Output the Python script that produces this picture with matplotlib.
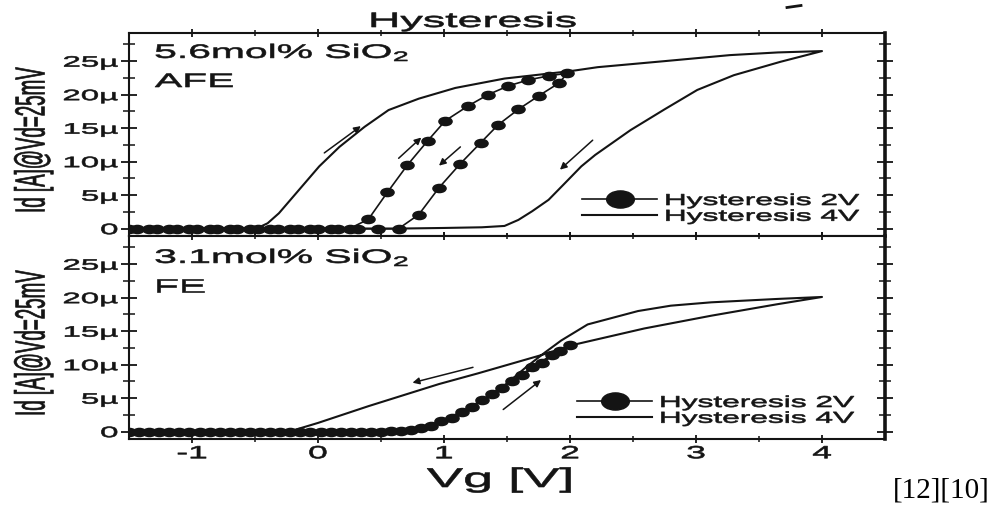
import numpy as np
import matplotlib
matplotlib.use("Agg")
import matplotlib.pyplot as plt
from matplotlib import patheffects
from matplotlib.path import Path
from matplotlib.markers import MarkerStyle
from matplotlib.transforms import Affine2D
from matplotlib.lines import Line2D

plt.rcParams["font.family"] = ["Liberation Sans", "DejaVu Sans"]
plt.rcParams["mathtext.fontset"] = "custom"
plt.rcParams["mathtext.rm"] = "Liberation Sans"
plt.rcParams["mathtext.it"] = "Liberation Sans:italic"
plt.rcParams["axes.unicode_minus"] = False

# ---- values (Vg in V, Id in uA) ----
# 5.6 mol% SiO2 (AFE)
afe_2v_up_vg = [-1.50, -1.34, -1.18, -1.02, -0.86, -0.70, -0.54, -0.38, -0.22, -0.06, 0.10, 0.25,
                0.40, 0.55, 0.71, 0.87, 1.01, 1.19, 1.35, 1.51, 1.67, 1.83, 1.98]
afe_2v_up_id = [0, 0, 0, 0, 0, 0, 0, 0, 0, 0, 0, 0,
                1.4, 5.4, 9.5, 13.1, 16.1, 18.3, 20.0, 21.3, 22.2, 22.8, 23.2]
afe_2v_down_vg = [1.91, 1.75, 1.59, 1.43, 1.29, 1.13, 0.96, 0.80, 0.64, 0.48, 0.32, 0.16,
                  0.00, -0.16, -0.32, -0.48, -0.64, -0.80, -0.96, -1.12, -1.28, -1.44]
afe_2v_down_id = [21.7, 19.8, 17.8, 15.5, 12.8, 9.7, 6.1, 2.1, 0, 0, 0, 0,
                  0, 0, 0, 0, 0, 0, 0, 0, 0, 0]
afe_4v_up_vg = [-1.50, -0.49, -0.40, -0.31, -0.15, 0.01, 0.17, 0.37, 0.56, 0.80, 1.09, 1.48,
                2.00, 2.22, 2.75, 3.27, 3.65, 4.00]
afe_4v_up_id = [0, 0, 0.8, 2.3, 5.8, 9.3, 12.2, 15.2, 17.7, 19.4, 21.0, 22.4,
                23.5, 24.1, 25.0, 25.9, 26.3, 26.5]
afe_4v_down_vg = [4.00, 3.67, 3.30, 3.01, 2.75, 2.48, 2.20, 2.09, 1.95, 1.83, 1.70, 1.59,
                  1.48, 1.30, 1.00, 0.60, -1.50]
afe_4v_down_id = [26.5, 24.9, 22.9, 20.7, 17.8, 14.7, 11.0, 9.3, 6.6, 4.3, 2.6, 1.3,
                  0.4, 0.2, 0.1, 0, 0]

# 3.1 mol% SiO2 (FE)
fe_2v_up_vg = [-1.50, -1.34, -1.18, -1.02, -0.86, -0.70, -0.54, -0.38, -0.22, -0.06, 0.10, 0.26,
               0.42, 0.58, 0.74, 0.90, 1.06, 1.22, 1.38, 1.54, 1.70, 1.86, 2.00]
fe_2v_up_id = [0, 0, 0, 0, 0, 0, 0, 0, 0, 0, 0, 0,
               0, 0.05, 0.3, 0.9, 2.1, 3.7, 5.6, 7.6, 9.6, 11.5, 13.0]
fe_2v_down_vg = [1.92, 1.78, 1.62, 1.46, 1.30, 1.14, 0.98, 0.82, 0.66, 0.50, 0.34, 0.18,
                 0.02, -0.14, -0.30, -0.46, -0.62, -0.78, -0.94, -1.10, -1.26, -1.42]
fe_2v_down_id = [12.0, 10.3, 8.4, 6.5, 4.7, 3.0, 1.6, 0.6, 0.15, 0, 0, 0,
                 0, 0, 0, 0, 0, 0, 0, 0, 0, 0]
fe_4v_up_vg = [-1.50, 0.50, 0.70, 0.90, 1.10, 1.30, 1.50, 1.65, 1.80, 1.93, 2.14, 2.54,
               2.80, 3.12, 3.64, 4.00]
fe_4v_up_id = [0, 0, 0.2, 0.8, 2.2, 4.6, 7.2, 9.6, 11.8, 13.6, 16.0, 18.0,
               18.8, 19.3, 19.8, 20.1]
fe_4v_down_vg = [4.00, 3.64, 3.12, 2.59, 2.06, 1.75, 1.27, 0.96, 0.40, 0.00, -0.23, -1.50]
fe_4v_down_id = [20.1, 19.0, 17.3, 15.4, 13.1, 11.3, 8.7, 7.1, 3.8, 1.3, 0, 0]

# sweep direction arrows (tail Vg, tail Id, head Vg, head Id)
afe_arrows = [(0.05, 11.3, 0.34, 15.3), (0.64, 10.5, 0.82, 13.6),
              (1.13, 12.2, 0.96, 9.4), (2.18, 13.2, 1.92, 8.8)]
fe_arrows = [(1.23, 9.6, 0.75, 7.3), (1.47, 3.3, 1.77, 7.7)]

xtick_vals = [-1, 0, 1, 2, 3, 4]
xtick_labels = ["-1", "0", "1", "2", "3", "4"]
ytick_vals = [0, 5, 10, 15, 20, 25]
ytick_labels = ["0", "5µ", "10µ", "15µ", "20µ", "25µ"]
legend_labels = ["Hysteresis 2V", "Hysteresis 4V"]

W, H = 1001, 512
ink = "#141414"


class HStretch(patheffects.AbstractPathEffect):
    # the source picture was squeezed into a wide box, so every glyph is ~2x wide
    def __init__(self, sx=2.1, anchor="left", lw=0.45):
        super().__init__()
        self.sx = sx
        self.anchor = anchor
        self.lw = lw

    def draw_path(self, renderer, gc, tpath, affine, rgbFace=None):
        ext = tpath.get_extents(affine)
        if self.anchor == "left":
            cx = ext.x0
        elif self.anchor == "right":
            cx = ext.x1
        else:
            cx = 0.5 * (ext.x0 + ext.x1)
        aff = affine + Affine2D().translate(-cx, 0).scale(self.sx, 1).translate(cx, 0)
        gc0 = renderer.new_gc()
        gc0.copy_properties(gc)
        gc0.set_linewidth(self.lw)
        gc0.set_foreground(rgbFace)
        renderer.draw_path(gc0, tpath, aff, rgbFace)
        gc0.restore()


def fx(px):
    return px / W


def fy(py):
    return 1 - py / H


def ftext(x, y, s, size, sx=2.1, anchor="left", **kw):
    t = fig.text(fx(x), fy(y), s, fontsize=size, color=ink, **kw)
    t.set_path_effects([HStretch(sx, anchor)])
    return t


circ = Path.unit_circle()
dot = MarkerStyle(Path(circ.vertices * [1.0, 0.62], circ.codes))

fig = plt.figure(figsize=(W / 100, H / 100), dpi=100)
ax_top = fig.add_axes([fx(129), fy(236), fx(885) - fx(129), fy(33) - fy(236)])
ax_bot = fig.add_axes([fx(129), fy(439), fx(885) - fx(129), fy(236) - fy(439)])

panels = [
    (ax_top, afe_2v_up_vg + afe_2v_down_vg, afe_2v_up_id + afe_2v_down_id,
     afe_4v_up_vg + afe_4v_down_vg, afe_4v_up_id + afe_4v_down_id, afe_arrows, (582, 193)),
    (ax_bot, fe_2v_up_vg + fe_2v_down_vg, fe_2v_up_id + fe_2v_down_id,
     fe_4v_up_vg + fe_4v_down_vg, fe_4v_up_id + fe_4v_down_id, fe_arrows, (577, 395)),
]

for ax, v2, i2, v4, i4, arrows, leg_xy in panels:
    l2, = ax.plot(v2, i2, color=ink, lw=1.2, marker=dot, ms=9.5, mec=ink, mfc=ink,
                  label=legend_labels[0])
    l4, = ax.plot(v4, i4, color=ink, lw=1.5, label=legend_labels[1])
    for tv, ti, hv, hi in arrows:
        ax.annotate("", xy=(hv, hi), xytext=(tv, ti),
                    arrowprops=dict(arrowstyle="-|>", color=ink, lw=1.1,
                                    mutation_scale=10, shrinkA=0, shrinkB=0))

    ax.set_xlim(-1.5, 4.5)
    ax.set_ylim(-1.1, 29.2)
    ax.set_xticks(xtick_vals)
    ax.set_xticks([-0.5, 0.5, 1.5, 2.5, 3.5], minor=True)
    ax.set_yticks(ytick_vals)
    ax.set_yticks([2.5, 7.5, 12.5, 17.5, 22.5, 27.5], minor=True)
    ax.set_yticklabels(ytick_labels)
    ax.tick_params(axis="y", which="major", direction="inout", length=11, width=1.3,
                   right=True, labelsize=10.8, pad=2.5, labelcolor=ink, color=ink)
    ax.tick_params(axis="y", which="minor", direction="inout", length=8, width=1.1,
                   right=True, color=ink)
    ax.tick_params(axis="x", which="major", direction="inout", length=6, width=1.3,
                   top=True, labelsize=12.7, pad=1.5, labelcolor=ink, color=ink)
    ax.tick_params(axis="x", which="minor", direction="inout", length=4, width=1.1,
                   top=True, color=ink)
    for lab in ax.get_yticklabels():
        lab.set_path_effects([HStretch(2.2, "right")])
    for side in ["top", "bottom", "left"]:
        ax.spines[side].set_linewidth(1.5)
        ax.spines[side].set_color(ink)
    ax.spines["right"].set_linewidth(2.6)
    ax.spines["right"].set_color(ink)

    leg = ax.legend(handles=[l2, l4], loc="upper left",
                    bbox_to_anchor=(fx(leg_xy[0]), fy(leg_xy[1])), bbox_transform=fig.transFigure,
                    frameon=False, fontsize=11.4, handlelength=4.75, handletextpad=0.5,
                    labelspacing=0.05, borderpad=0, borderaxespad=0, markerscale=2.1)
    for t in leg.get_texts():
        t.set_color(ink)
        t.set_path_effects([HStretch(2.0, "left")])

ax_top.tick_params(axis="x", labelbottom=False)
ax_bot.set_xticklabels(xtick_labels)
for lab in ax_bot.get_xticklabels():
    lab.set_path_effects([HStretch(2.0, "center")])

# titles and labels
ftext(370, 27, "Hysteresis", 15, sx=2.15, va="baseline")
ftext(155, 58, "5.6mol% SiO$_2$", 14, va="baseline")
ftext(155, 87, "AFE", 14, va="baseline")
ftext(155, 263, "3.1mol% SiO$_2$", 14, va="baseline")
ftext(155, 292, "FE", 14, va="baseline")
ftext(427, 487, "Vg [V]", 19.5, sx=2.0, va="baseline")
ftext(34, 140, "Id [A]@Vd=25mV", 13.5, sx=2.25, anchor="center", rotation=90, ha="center", va="center")
ftext(34, 343, "Id [A]@Vd=25mV", 13.5, sx=2.25, anchor="center", rotation=90, ha="center", va="center")

fig.text(fx(893), fy(498), "[12][10]", fontsize=21, family="Liberation Serif",
         color="black", va="baseline")
fig.add_artist(Line2D([fx(787), fx(801)], [fy(7.5), fy(5.5)], color=ink, lw=2))

fig.savefig("out.png", dpi=100)
